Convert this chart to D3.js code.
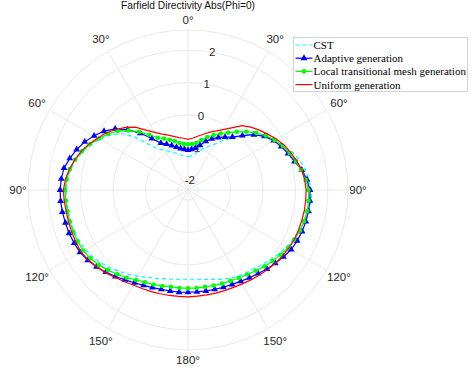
<!DOCTYPE html>
<html>
<head>
<meta charset="utf-8">
<script src="https://cdn.jsdelivr.net/npm/d3@7"></script>
<style>
  body { margin: 0; background: #fff; }
  svg { display: block; }
</style>
</head>
<body>
<svg id="chart" width="471" height="367"></svg>
<script>
// index.html - farfield polar plot

// Data: directivity in dB, theta in 5 degree steps (clockwise from top)
const angles = d3.range(0, 360, 5);

const cst = [-1.28,-1.26,-1.20,-1.08,-0.95,-0.83,-0.68,-0.46,-0.21,0.09,0.37,0.57,0.74,0.93,1.11,1.25,1.36,1.43,1.50,1.50,
  1.46,1.42,1.36,1.28,1.20,1.11,1.02,0.93,0.85,0.80,0.76,0.69,0.62,0.54,0.49,0.45,0.44,0.45,0.48,0.52,
  0.59,0.66,0.76,0.86,0.97,1.08,1.19,1.28,1.34,1.39,1.42,1.43,1.44,1.44,1.45,1.42,1.36,1.26,1.14,1.00,
  0.83,0.63,0.40,0.00,-0.52,-0.77,-0.91,-1.00,-1.09,-1.17,-1.23,-1.26];

const adaptive = [-1.08,-1.05,-1.00,-0.88,-0.71,-0.57,-0.44,-0.32,-0.18,0.06,0.34,0.57,0.74,0.86,0.97,1.09,1.25,1.37,1.45,1.46,
  1.46,1.45,1.43,1.40,1.36,1.28,1.20,1.13,1.05,0.99,0.94,0.90,0.88,0.86,0.85,0.84,0.84,0.85,0.85,0.86,
  0.89,0.93,0.99,1.07,1.17,1.27,1.37,1.46,1.53,1.56,1.59,1.60,1.62,1.63,1.63,1.61,1.57,1.46,1.34,1.20,
  1.03,0.85,0.62,0.32,-0.03,-0.37,-0.64,-0.75,-0.85,-0.94,-1.01,-1.05];

const localMesh = [-0.90,-0.89,-0.84,-0.72,-0.57,-0.44,-0.30,-0.15,0.03,0.23,0.43,0.62,0.77,0.91,1.02,1.13,1.23,1.33,1.40,1.42,
  1.42,1.39,1.36,1.30,1.25,1.17,1.09,1.02,0.94,0.87,0.82,0.78,0.76,0.74,0.72,0.72,0.72,0.72,0.72,0.75,
  0.79,0.83,0.89,0.99,1.08,1.18,1.28,1.36,1.42,1.44,1.45,1.46,1.46,1.47,1.48,1.44,1.39,1.29,1.17,1.03,
  0.86,0.70,0.52,0.28,0.03,-0.23,-0.45,-0.56,-0.66,-0.75,-0.84,-0.89];

const uniform = [-0.75,-0.71,-0.63,-0.54,-0.42,-0.31,-0.16,0.03,0.28,0.43,0.56,0.69,0.83,0.96,1.06,1.16,1.25,1.30,1.33,1.33,
  1.33,1.32,1.31,1.30,1.28,1.24,1.20,1.16,1.11,1.07,1.03,1.00,0.99,0.98,0.97,0.97,0.98,0.98,0.99,1.00,
  1.02,1.04,1.07,1.13,1.20,1.29,1.37,1.44,1.50,1.50,1.50,1.50,1.50,1.52,1.53,1.48,1.40,1.30,1.19,1.05,
  0.90,0.76,0.59,0.42,0.22,-0.06,-0.26,-0.41,-0.51,-0.60,-0.67,-0.71];

const seriesNames = ['CST', 'Adaptive generation', 'Local transitional mesh generation', 'Uniform generation'];

const rTicks = [-2, -1, 0, 1, 2];
const rLimits = [-2.31, 2.62];
const thetaTicks = [0, 30, 60, 90, 120, 150, 180, 210, 240, 270, 300, 330];
const thetaLabels = ['0°', '30°', '60°', '90°', '120°', '150°', '180°', '150°', '120°', '90°', '60°', '30°'];

// Layout
const cx = 188, cy = 190, outerR = 160;
const rad = deg => deg * Math.PI / 180;

const r = d3.scaleLinear().domain(rLimits).range([0, outerR]);

const svg = d3.select('#chart');
const g = svg.append('g').attr('transform', `translate(${cx},${cy})`);

// Grid rings
g.selectAll('.ring')
  .data(rTicks.concat([rLimits[1]]))
  .enter().append('circle')
  .attr('class', 'ring')
  .attr('r', d => r(d))
  .attr('fill', 'none')
  .attr('stroke', '#e3e3e3')
  .attr('stroke-width', 0.8);

// Spokes
g.selectAll('.spoke')
  .data(thetaTicks)
  .enter().append('line')
  .attr('class', 'spoke')
  .attr('x1', 0).attr('y1', 0)
  .attr('x2', d => outerR * Math.sin(rad(d)))
  .attr('y2', d => -outerR * Math.cos(rad(d)))
  .attr('stroke', '#e3e3e3')
  .attr('stroke-width', 0.8);

// Theta labels
g.selectAll('.theta-label')
  .data(thetaTicks)
  .enter().append('text')
  .attr('class', 'theta-label')
  .attr('x', d => (170 + 5 * Math.abs(Math.sin(rad(d * 2)))) * Math.sin(rad(d)))
  .attr('y', d => -(170 + 5 * Math.abs(Math.sin(rad(d * 2)))) * Math.cos(rad(d)))
  .attr('text-anchor', 'middle')
  .attr('dominant-baseline', 'central')
  .style('font-family', '"Liberation Sans", Arial, sans-serif')
  .style('font-size', '11.5px')
  .style('fill', '#262626')
  .text((d, i) => thetaLabels[i]);

// R labels, along 10 degrees
const rLabelAngle = rad(10);
g.selectAll('.r-label')
  .data(rTicks)
  .enter().append('text')
  .attr('class', 'r-label')
  .attr('x', d => r(d) * Math.sin(rLabelAngle))
  .attr('y', d => -r(d) * Math.cos(rLabelAngle))
  .attr('text-anchor', 'middle')
  .attr('dominant-baseline', 'central')
  .style('font-family', '"Liberation Sans", Arial, sans-serif')
  .style('font-size', '11.5px')
  .style('fill', '#262626')
  .text(d => d);

// Series
const radialLine = d3.lineRadial()
  .angle((d, i) => rad(angles[i]))
  .radius(d => r(d))
  .curve(d3.curveLinearClosed);

const series = [
  { values: cst, color: '#00ffff', dash: '4,3', marker: null },
  { values: adaptive, color: '#0000ff', dash: null, marker: 'triangle' },
  { values: localMesh, color: '#00ff00', dash: null, marker: 'circle' },
  { values: uniform, color: '#ff0000', dash: null, marker: null }
];

const triangle = d3.symbol().type(d3.symbolTriangle).size(20);

series.forEach(s => {
  g.append('path')
    .datum(s.values)
    .attr('d', radialLine)
    .attr('fill', 'none')
    .attr('stroke', s.color)
    .attr('stroke-width', 1.2)
    .attr('stroke-dasharray', s.dash);

  if (s.marker === 'triangle') {
    g.selectAll(null)
      .data(s.values)
      .enter().append('path')
      .attr('d', triangle)
      .attr('transform', (d, i) => `translate(${r(d) * Math.sin(rad(angles[i]))},${-r(d) * Math.cos(rad(angles[i]))})`)
      .attr('fill', s.color);
  } else if (s.marker === 'circle') {
    g.selectAll(null)
      .data(s.values)
      .enter().append('circle')
      .attr('cx', (d, i) => r(d) * Math.sin(rad(angles[i])))
      .attr('cy', (d, i) => -r(d) * Math.cos(rad(angles[i])))
      .attr('r', 2.3)
      .attr('fill', s.color);
  }
});

// Title
svg.append('text')
  .attr('x', cx)
  .attr('y', 9)
  .attr('text-anchor', 'middle')
  .style('font-family', '"Liberation Sans", Arial, sans-serif')
  .style('font-size', '10.2px')
  .style('fill', '#111')
  .text('Farfield Directivity Abs(Phi=0)');

// Legend
const legend = svg.append('g').attr('transform', 'translate(293.5,37.5)');
legend.append('rect')
  .attr('width', 174)
  .attr('height', 54)
  .attr('fill', '#fff')
  .attr('stroke', '#c8c8c8')
  .attr('stroke-width', 0.8);

const rowY = i => 7.5 + i * 13.2;

series.forEach((s, i) => {
  legend.append('line')
    .attr('x1', 2).attr('x2', 19)
    .attr('y1', rowY(i)).attr('y2', rowY(i))
    .attr('stroke', s.color)
    .attr('stroke-width', 1.2)
    .attr('stroke-dasharray', s.dash);
  if (s.marker === 'triangle') {
    legend.append('path')
      .attr('d', triangle)
      .attr('transform', `translate(10.5,${rowY(i)})`)
      .attr('fill', s.color);
  } else if (s.marker === 'circle') {
    legend.append('circle')
      .attr('cx', 10.5).attr('cy', rowY(i))
      .attr('r', 2.3)
      .attr('fill', s.color);
  }
  legend.append('text')
    .attr('x', 20)
    .attr('y', rowY(i))
    .attr('dominant-baseline', 'central')
    .style('font-family', '"Liberation Serif", "Times New Roman", serif')
    .style('font-size', '11px')
    .style('fill', '#000')
    .text(seriesNames[i]);
});
</script>
</body>
</html>
